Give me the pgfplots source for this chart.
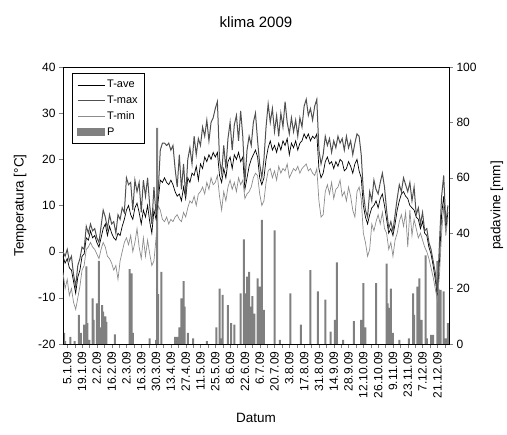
\documentclass[border=0pt]{standalone}
\usepackage{pgfplots}
\pgfplotsset{compat=1.18}
\usepackage{pgfplotstable}
\usepackage{fontspec}
\setmainfont{Liberation Sans}
\definecolor{barc}{RGB}{128,128,128}
\definecolor{tminc}{RGB}{140,140,140}
\definecolor{tmaxc}{RGB}{80,80,80}

\pgfplotstableread{
d tmax tave tmin
1 0.0 -1.0 -4.5
3 -1.0 -2.5 -8.0
5 0.5 -1.5 -6.0
7 -2.0 -3.5 -9.5
9 -1.0 -4.0 -8.0
11 -5.0 -6.5 -11.0
13 -7.5 -9.0 -12.5
15 -3.0 -5.5 -10.0
17 -1.5 -4.0 -7.5
19 1.0 -1.0 -4.0
21 0.5 -0.5 -3.0
23 5.5 3.0 0.5
25 4.0 2.5 1.0
27 6.0 4.5 2.0
29 4.5 3.0 1.0
31 5.0 3.5 0.5
33 3.0 2.0 -0.5
35 2.0 1.0 -1.5
37 5.5 3.0 0.5
39 9.0 5.0 2.0
41 7.5 6.0 1.0
43 5.0 3.5 -1.0
45 8.0 5.5 -1.5
47 6.0 4.0 -2.5
49 6.5 3.0 -4.0
51 4.0 2.5 -3.0
53 8.0 4.0 -6.0
55 7.0 3.5 -2.0
57 9.5 5.5 0.0
59 8.5 7.0 2.0
61 16.0 9.0 3.0
63 14.5 10.0 1.5
65 15.0 8.0 3.5
67 9.0 7.0 0.0
69 15.5 9.5 2.0
71 13.0 10.5 5.0
73 15.0 8.5 1.0
75 8.5 6.0 -1.5
77 15.5 9.0 3.0
79 12.0 7.5 -1.0
81 16.0 10.0 2.5
83 10.0 6.5 -0.5
85 6.0 4.0 -3.0
87 14.0 9.0 -2.0
89 8.0 7.0 3.0
91 13.0 11.0 10.0
93 22.0 15.5 9.0
95 23.5 15.0 7.0
97 23.5 16.0 6.5
99 23.0 15.0 7.5
101 23.5 14.5 6.0
103 22.0 15.5 7.0
105 23.0 14.5 6.5
107 18.0 13.0 7.5
109 14.0 12.0 8.0
111 21.0 12.5 7.0
113 13.5 11.0 6.5
115 19.0 14.0 8.5
117 12.0 11.5 7.5
119 20.0 16.0 9.5
121 22.5 15.0 11.0
123 19.0 17.0 10.5
125 25.0 16.5 12.0
127 21.0 18.5 10.0
129 24.5 15.5 12.5
131 23.0 19.0 13.0
133 27.0 18.0 14.0
135 25.0 20.5 12.5
137 28.5 19.5 15.0
139 24.0 21.0 13.5
141 28.0 20.0 16.0
143 29.0 21.5 14.5
145 31.0 20.5 15.0
147 32.5 21.5 16.5
149 20.0 16.5 12.0
151 17.0 15.0 9.0
153 23.0 18.0 13.0
155 18.0 16.0 11.0
157 24.5 19.5 14.0
159 28.0 20.5 15.5
161 22.0 18.0 13.5
163 27.5 21.0 15.0
165 29.5 20.0 13.0
167 24.0 21.5 16.0
169 30.5 19.5 14.5
171 25.0 20.5 15.5
173 15.0 13.5 11.5
175 22.0 16.0 12.5
177 25.0 18.5 13.0
179 23.0 20.0 14.0
181 28.0 21.0 16.0
183 30.0 22.0 17.0
185 24.0 20.5 16.5
187 19.0 16.0 12.5
189 16.0 14.5 10.0
191 20.0 16.0 11.0
193 27.0 20.0 15.0
195 32.0 22.5 17.5
197 28.0 24.0 18.0
199 31.0 22.0 16.0
201 26.0 23.0 17.5
203 29.5 21.5 15.5
205 25.0 23.5 18.5
207 30.0 22.0 17.0
209 27.0 24.0 18.0
211 32.5 23.0 17.5
213 28.0 24.5 19.0
215 25.5 21.0 16.0
217 29.0 23.5 17.0
219 26.0 22.5 18.0
221 28.5 24.0 17.5
223 25.0 22.0 18.5
225 29.0 23.5 17.0
227 27.0 24.0 18.0
229 31.5 25.5 18.5
231 33.0 24.5 19.0
233 29.5 25.5 17.5
235 31.0 24.0 18.0
237 28.5 25.0 17.0
239 31.5 24.5 16.5
241 33.0 25.5 18.0
243 22.0 18.0 11.0
245 19.0 16.0 7.5
247 21.0 17.0 8.0
249 25.0 19.5 13.0
251 23.0 20.5 14.5
253 24.5 19.0 12.5
255 21.5 19.5 15.0
257 24.0 18.0 11.5
259 22.5 19.5 13.5
261 25.0 18.5 14.0
263 23.5 20.0 15.5
265 24.5 19.5 12.0
267 22.0 17.5 13.0
269 25.0 18.0 11.0
271 22.5 19.5 14.0
273 24.0 18.5 12.0
275 21.0 17.0 9.0
277 23.5 19.0 7.5
279 25.5 20.0 13.0
281 25.0 17.5 14.0
283 21.0 16.0 11.5
285 13.0 10.0 4.0
287 9.0 7.5 2.0
289 7.5 6.0 -1.0
291 13.0 8.0 0.5
293 11.0 9.5 6.0
295 15.5 10.0 4.5
297 13.5 11.0 6.5
299 12.5 9.5 8.0
301 15.0 11.5 6.0
303 17.0 12.5 8.5
305 14.0 10.0 5.0
307 9.0 7.0 4.0
309 5.0 4.0 0.5
311 6.5 5.0 2.0
313 4.5 3.5 -1.0
315 8.0 6.0 2.5
317 11.5 9.0 4.0
319 14.5 11.0 6.5
321 13.0 12.5 8.0
323 16.0 13.0 5.5
325 14.5 12.0 8.5
327 13.0 11.5 1.0
329 15.0 10.0 9.0
331 11.0 9.5 3.5
333 14.0 9.0 7.0
335 8.0 7.5 5.0
337 9.5 7.0 3.0
339 6.0 5.0 4.0
341 8.5 6.5 2.5
343 4.5 4.0 1.0
345 5.0 3.5 0.0
347 2.0 1.0 -1.5
349 0.5 -0.5 -3.5
351 -2.0 -3.0 -5.5
353 -4.5 -6.0 -8.0
355 -9.0 -9.5 -10.5
357 2.0 -2.0 -5.0
359 12.0 8.0 4.0
361 16.5 12.0 10.0
363 6.0 5.0 3.5
365 10.0 8.5 7.5
}\temps

\pgfplotstableread{
d p
2 4
3 1
8 2.6
12 1
16 10.5
18 4
21 7
23 28
24 7.5
26 1.5
29 16.5
30 8.7
33 14.7
34 3
35 30
36 6
38 14
39 11.7
41 10
42 8
50 3.5
64 27
66 25.5
67 4
83 2
89 1.5
90 78
91 18
94 26
107 2.6
109 2.6
111 6
113 16.5
115 22.7
116 13.5
119 4
124 2
137 1
146 6
149 20
150 2
152 17.7
157 14
160 7.5
163 7
169 18.3
172 37.8
174 18.3
175 24.3
177 26
179 13.5
180 17.3
182 11
185 23.7
187 20.7
189 44.8
191 12.3
201 41
206 1.5
216 18.3
226 7
235 26.7
242 19
249 16
254 4.5
258 8.7
260 29.5
266 1.5
276 8.3
283 8.7
285 22
287 6
297 22
307 29
308 14.7
309 13
311 20
313 4
319 1.5
328 2
332 18.3
333 10.5
336 20.7
338 23.7
340 8.7
344 32
345 2
349 3.3
351 3.3
355 30
356 20
358 19.5
361 19
363 2
365 7.5
}\prec

\begin{document}
\begin{tikzpicture}[x=1pt,y=1pt]
\useasboundingbox (-63,-91) rectangle (444,344);
\node[font=\fontsize{15}{18}\selectfont] at (193,322) {klima 2009};
\begin{axis}[
  at={(0,0)}, anchor=south west, scale only axis,
  width=386pt, height=277pt,
  xmin=1, xmax=366, ymin=0, ymax=100,
  axis y line*=right, axis x line=none,
  ytick={0,20,...,100},
  tick align=outside, major tick length=4pt,
  /pgf/number format/assume math mode=true,
  tick label style={font=\fontsize{12}{14}\selectfont},
  ylabel={padavine [mm]},
  ylabel style={font=\fontsize{13.5}{16}\selectfont, at={(axis description cs:1.124,0.5)}, anchor=center},
  axis line style={line width=0.5pt},
]
\addplot[ybar, bar width=2pt, fill=barc, draw=none] table[x=d,y=p]{\prec};
\end{axis}
\begin{axis}[
  at={(0,0)}, anchor=south west, scale only axis,
  width=386pt, height=277pt,
  xmin=1, xmax=366, ymin=-20, ymax=40,
  ytick={-20,-10,...,40},
  xtick={5,19,...,355},
  minor xtick={12,26,...,362},
  xticklabels={5.1.09,19.1.09,2.2.09,16.2.09,2.3.09,16.3.09,30.3.09,13.4.09,27.4.09,11.5.09,25.5.09,8.6.09,22.6.09,6.7.09,20.7.09,3.8.09,17.8.09,31.8.09,14.9.09,28.9.09,12.10.09,26.10.09,9.11.09,23.11.09,7.12.09,21.12.09},
  xtick pos=bottom, ytick pos=left,
  tick align=outside, major tick length=4pt, minor tick length=4pt,
  /pgf/number format/assume math mode=true,
  tick label style={font=\fontsize{12}{14}\selectfont},
  xticklabel style={rotate=90, anchor=east},
  xlabel={Datum},
  xlabel style={font=\fontsize{13.5}{16}\selectfont, at={(axis description cs:0.5,-0.267)}, anchor=center},
  ylabel={Temperatura [°C]},
  ylabel style={font=\fontsize{13.5}{16}\selectfont, at={(axis description cs:-0.111,0.5)}, anchor=center},
  axis line style={line width=0.5pt},
  legend style={at={(axis description cs:0.023,0.978)}, anchor=north west, draw=black, line width=0.6pt, font=\fontsize{11}{12}\selectfont, row sep=2.5pt, inner xsep=5pt, inner ysep=5pt},
  legend cell align=left,
  legend image code/.code={\draw[#1] (0pt,0pt) -- (27pt,0pt);},
]
\addplot[black, line width=0.7pt] table[x=d,y=tave]{\temps};
\addlegendentry{T-ave}
\addplot[tmaxc, line width=1pt] table[x=d,y=tmax]{\temps};
\addlegendentry{T-max}
\addplot[tminc, line width=0.7pt] table[x=d,y=tmin]{\temps};
\addlegendentry{T-min}
\addlegendimage{legend image code/.code={\fill[barc] (0pt,-3.5pt) rectangle (27pt,3.5pt);}}
\addlegendentry{P}
\end{axis}
\end{tikzpicture}
\end{document}
